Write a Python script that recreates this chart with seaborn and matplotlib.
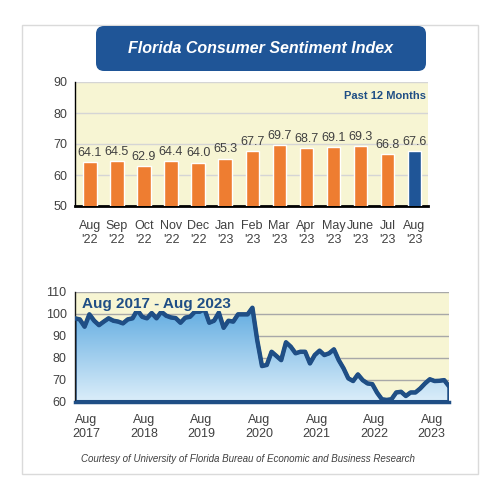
import numpy as np
import seaborn as sns
import matplotlib.pyplot as plt
from matplotlib.patches import FancyBboxPatch, Rectangle

# past 12 months (bar chart)
months = ["Aug\n'22", "Sep\n'22", "Oct\n'22", "Nov\n'22", "Dec\n'22", "Jan\n'23", "Feb\n'23",
          "Mar\n'23", "Apr\n'23", "May\n'23", "June\n'23", "Jul\n'23", "Aug\n'23"]
month_values = [64.1, 64.5, 62.9, 64.4, 64.0, 65.3, 67.7, 69.7, 68.7, 69.1, 69.3, 66.8, 67.6]
bar_colors = ["#EE7D31"] * 12 + ["#1F5597"]

# long history (area chart), one value per month
history = [97.9, 97.4, 94.1, 99.7, 96.8, 94.8, 96.4, 97.9, 96.8, 96.4, 95.6, 97.4,
           97.9, 101.7, 98.6, 97.9, 100.3, 97.9, 100.9, 99.1, 98.3, 98.0, 95.9, 98.2,
           98.6, 100.9, 100.9, 102.1, 95.9, 96.8, 100.5, 93.6, 96.8, 96.4, 99.7, 99.7,
           99.7, 102.7, 88.0, 76.2, 76.7, 82.7, 80.8, 78.9, 87.0, 85.0, 82.0, 82.7,
           82.7, 77.4, 81.2, 83.2, 81.2, 82.0, 83.8, 78.9, 75.2, 70.6, 69.4, 72.4,
           69.8, 68.3, 68.0, 64.1, 61.1, 60.8, 61.1, 64.2, 64.5, 62.6, 64.2, 64.2,
           66.0, 68.3, 70.2, 69.4, 69.5, 69.8, 67.0]
year_labels = ["Aug\n2017", "Aug\n2018", "Aug\n2019", "Aug\n2020", "Aug\n2021", "Aug\n2022", "Aug\n2023"]

sns.set_style("white")
plt.rcParams['font.family'] = ['Liberation Sans', 'DejaVu Sans']

bg = "#F7F5D3"
navy = "#1F4E85"
txt = "#404040"

fig = plt.figure(figsize=(5, 5), dpi=100)
fig.patches.append(Rectangle((0.044, 0.052), 0.912, 0.898, transform=fig.transFigure,
                             facecolor="white", edgecolor="#DADADA", lw=1, zorder=-5))

# title box
fig.patches.append(FancyBboxPatch((0.2, 0.866), 0.644, 0.074, transform=fig.transFigure,
                                  boxstyle="round,pad=0.008,rounding_size=0.016",
                                  facecolor="#1F5597", edgecolor="none", zorder=-4))
fig.text(0.522, 0.903, "Florida Consumer Sentiment Index", color="white", fontsize=11.5,
         fontweight="bold", fontstyle="italic", ha="center", va="center")

# ---- bar chart
ax = fig.add_axes([0.15, 0.588, 0.706, 0.248])
ax.set_facecolor(bg)
sns.barplot(x=months, y=month_values, hue=months, palette=bar_colors, legend=False,
            width=0.49, saturation=1, ax=ax, zorder=3)
ax.set_ylim(50, 90)
ax.set_xlim(-0.55, 12.5)
ax.set_yticks([50, 60, 70, 80, 90])
ax.grid(axis="y", color="#D5D5D5", lw=1, zorder=0)
ax.set_axisbelow(True)
for i, v in enumerate(month_values):
    ax.text(i, v + 1.0, f"{v:.1f}", ha="center", va="bottom", fontsize=9, color=txt)
ax.text(0.995, 0.93, "Past 12 Months", transform=ax.transAxes, ha="right", va="top",
        fontsize=8, fontweight="bold", color=navy)
for s in ["top", "right"]:
    ax.spines[s].set_visible(False)
ax.spines["left"].set_color("black")
ax.spines["left"].set_linewidth(1)
ax.spines["bottom"].set_color("black")
ax.spines["bottom"].set_linewidth(2)
ax.tick_params(axis="both", length=0, labelsize=9, labelcolor=txt)
ax.tick_params(axis="x", pad=10)
ax.tick_params(axis="y", pad=5.5)

# ---- line / area chart
ax2 = fig.add_axes([0.15, 0.1966, 0.748, 0.22])
ax2.set_facecolor(bg)
x = np.arange(len(history))
poly = ax2.fill_between(x, history, 60, facecolor="none", edgecolor=navy, lw=2.5, zorder=2)
grad = np.linspace(1, 0, 256).reshape(-1, 1)
cmap = sns.blend_palette(["#DCEEFA", "#5EAAE0"], as_cmap=True)
img = ax2.imshow(grad, extent=(0, len(history) - 1, 60, 104), aspect="auto", cmap=cmap,
                 origin="upper", zorder=1)
img.set_clip_path(poly.get_paths()[0], transform=ax2.transData)
sns.lineplot(x=x, y=history, color=navy, lw=3.2, ax=ax2, zorder=3)
ax2.set_xlim(0, len(history) - 1)
ax2.set_ylim(60, 110)
ax2.set_yticks([60, 70, 80, 90, 100, 110])
ax2.grid(axis="y", color="#A8A8A8", lw=1, zorder=0)
ax2.set_axisbelow(True)
ax2.set_xticks(np.arange(0, len(history), 12))
ax2.set_xticklabels([])
ax2.set_xticks(np.arange(0, len(history), 12) + 2.4, minor=True)
ax2.set_xticklabels(year_labels, minor=True)
ax2.tick_params(axis="x", which="major", direction="in", length=3, color=navy, width=1)
ax2.tick_params(axis="x", which="minor", length=0, labelsize=9, labelcolor=txt, pad=9)
ax2.tick_params(axis="y", length=0, labelsize=9, labelcolor=txt, pad=6)
for s in ["top", "right"]:
    ax2.spines[s].set_visible(False)
ax2.spines["left"].set_color("#1a1a1a")
ax2.spines["left"].set_linewidth(1)
ax2.spines["bottom"].set_color(navy)
ax2.spines["bottom"].set_linewidth(2.5)
ax2.text(0.02, 0.955, "Aug 2017 - Aug 2023", transform=ax2.transAxes, ha="left", va="top",
         fontsize=11, fontweight="bold", color=navy, zorder=5,
         bbox=dict(facecolor=bg, edgecolor="none", pad=0.5))

fig.text(0.495, 0.083, "Courtesy of University of Florida Bureau of Economic and Business Research",
         ha="center", va="center", fontsize=7, fontstyle="italic", color="#404040")

fig.savefig("out.png", dpi=100)
